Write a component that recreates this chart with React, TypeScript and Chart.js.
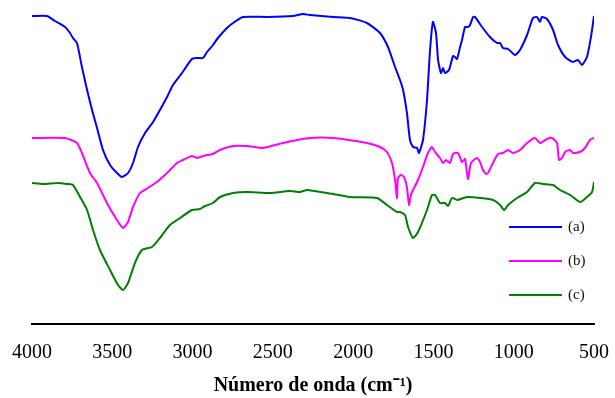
import { useEffect, useRef } from "react";
import { Chart, registerables } from "chart.js";

Chart.register(...registerables);

// Wavenumbers (cm-1) and transmittance (arbitrary units, offset spectra)
const waveA = [4000, 3907, 3857, 3794, 3763, 3745, 3720, 3689, 3657, 3626, 3595, 3558, 3514, 3471, 3440, 3402, 3371, 3340, 3296, 3246, 3203, 3159, 3122, 3066, 3004, 2972, 2935, 2910, 2873, 2842, 2786, 2748, 2686, 2536, 2375, 2312, 2269, 2125, 2020, 1914, 1833, 1783, 1739, 1708, 1689, 1665, 1646, 1627, 1602, 1590, 1565, 1540, 1521, 1503, 1484, 1471, 1453, 1440, 1428, 1403, 1378, 1366, 1353, 1334, 1322, 1303, 1285, 1272, 1253, 1241, 1197, 1148, 1104, 1085, 1067, 1035, 992, 961, 917, 880, 855, 836, 824, 793, 755, 724, 680, 631, 600, 575, 544, 519, 500];
const transA = [308, 308, 303, 297, 291, 286, 281, 257, 234, 214, 196, 174, 159, 151, 147, 151, 161, 177, 191, 202, 214, 227, 239, 251, 265, 266, 266, 272, 279, 286, 296, 301, 307, 307, 308, 310, 309, 307, 306, 301, 291, 277, 257, 244, 234, 211, 184, 177, 176, 171, 184, 224, 274, 302, 291, 264, 251, 256, 251, 254, 268, 267, 265, 277, 284, 297, 297, 299, 307, 307, 297, 287, 281, 281, 276, 275, 269, 274, 289, 306, 307, 302, 307, 305, 294, 279, 267, 262, 264, 259, 267, 287, 308];

const waveB = [4000, 3794, 3720, 3689, 3639, 3595, 3533, 3471, 3433, 3402, 3371, 3327, 3278, 3222, 3159, 3097, 3060, 3004, 2972, 2954, 2910, 2873, 2829, 2748, 2661, 2561, 2437, 2269, 2125, 1914, 1833, 1789, 1758, 1739, 1727, 1721, 1702, 1683, 1665, 1652, 1640, 1627, 1596, 1565, 1534, 1509, 1490, 1459, 1440, 1422, 1397, 1378, 1347, 1322, 1303, 1285, 1266, 1229, 1210, 1191, 1173, 1160, 1129, 1098, 1067, 1035, 1004, 961, 917, 867, 836, 793, 762, 730, 718, 699, 680, 649, 631, 587, 556, 525, 500];
const transB = [186, 186, 181, 171, 151, 141, 121, 104, 96, 102, 117, 131, 136, 142, 151, 161, 164, 168, 166, 167, 169, 170, 174, 178, 178, 176, 181, 186, 186, 181, 177, 172, 161, 144, 126, 146, 149, 147, 137, 119, 129, 134, 144, 157, 171, 177, 172, 166, 161, 164, 161, 170, 171, 162, 165, 145, 161, 166, 162, 154, 150, 151, 161, 170, 171, 174, 171, 174, 181, 186, 181, 185, 186, 181, 164, 166, 172, 174, 171, 172, 176, 184, 186];

const waveC = [4000, 3931, 3838, 3782, 3745, 3701, 3657, 3620, 3577, 3514, 3464, 3433, 3402, 3359, 3315, 3253, 3203, 3141, 3078, 3004, 2954, 2923, 2873, 2829, 2748, 2661, 2518, 2393, 2331, 2287, 2163, 2020, 1851, 1789, 1727, 1708, 1677, 1658, 1627, 1596, 1540, 1509, 1490, 1459, 1428, 1409, 1384, 1353, 1291, 1210, 1129, 1085, 1060, 1035, 979, 917, 867, 818, 755, 712, 649, 587, 544, 512, 500];
const transC = [141, 140, 141, 140, 139, 127, 114, 94, 74, 54, 39, 34, 41, 61, 74, 77, 86, 99, 106, 114, 115, 118, 121, 127, 131, 132, 131, 133, 132, 134, 131, 127, 126, 119, 112, 112, 109, 97, 86, 92, 114, 129, 129, 121, 121, 118, 126, 124, 127, 126, 124, 119, 114, 119, 126, 132, 141, 140, 139, 134, 129, 122, 127, 132, 142];

const seriesLabels = ["(a)", "(b)", "(c)"];
const seriesColors = ["#0000FF", "#FF00FF", "#008000"];
const xTickValues = [4000, 3500, 3000, 2500, 2000, 1500, 1000, 500];
const xTitle = "Número de onda (cm⁻¹)";

const toPoints = (xs: number[], ys: number[]) => xs.map((x, i) => ({ x, y: ys[i] }));

const legendPlugin = {
  id: "insideLegend",
  afterDraw(chart: any) {
    const { ctx, chartArea } = chart;
    const offsets = [97, 63, 29];
    ctx.save();
    chart.data.datasets.forEach((ds: any, i: number) => {
      const y = chartArea.bottom - offsets[i];
      ctx.strokeStyle = ds.borderColor;
      ctx.lineWidth = 2;
      ctx.beginPath();
      ctx.moveTo(chartArea.right - 85, y);
      ctx.lineTo(chartArea.right - 32, y);
      ctx.stroke();
      ctx.fillStyle = "#111";
      ctx.font = "15px 'Liberation Serif'";
      ctx.textBaseline = "middle";
      ctx.textAlign = "left";
      ctx.fillText(ds.label, chartArea.right - 26, y);
    });
    ctx.restore();
  },
};

export default function App() {
  const canvasRef = useRef<HTMLCanvasElement | null>(null);

  useEffect(() => {
    const canvas = canvasRef.current;
    if (!canvas) return;
    const chart = new Chart(canvas, {
      type: "line",
      data: {
        datasets: [
          { label: seriesLabels[0], data: toPoints(waveA, transA), borderColor: seriesColors[0], backgroundColor: seriesColors[0], borderWidth: 2, pointRadius: 0, tension: 0.2, fill: false },
          { label: seriesLabels[1], data: toPoints(waveB, transB), borderColor: seriesColors[1], backgroundColor: seriesColors[1], borderWidth: 2, pointRadius: 0, tension: 0.2, fill: false },
          { label: seriesLabels[2], data: toPoints(waveC, transC), borderColor: seriesColors[2], backgroundColor: seriesColors[2], borderWidth: 2, pointRadius: 0, tension: 0.2, fill: false },
        ],
      },
      options: {
        animation: false,
        responsive: true,
        maintainAspectRatio: false,
        layout: { padding: { left: 32, right: 21, top: 10, bottom: 0 } },
        plugins: {
          legend: { display: false },
          tooltip: { enabled: false },
          title: { display: false },
        },
        scales: {
          x: {
            type: "linear",
            min: 500,
            max: 4000,
            reverse: true,
            afterBuildTicks: (axis: any) => {
              axis.ticks = xTickValues.map((v) => ({ value: v }));
            },
            grid: { display: false, drawTicks: true, tickLength: 17 },
            border: { display: true, color: "#000", width: 2 },
            ticks: {
              color: "#000",
              padding: 0,
              maxRotation: 0,
              autoSkip: false,
              font: { family: "'Liberation Serif'", size: 20 },
              callback: (v: any) => String(v),
            },
            title: {
              display: true,
              text: xTitle,
              color: "#000",
              font: { family: "'Liberation Serif'", size: 20, weight: "bold" },
              padding: { top: 9, bottom: 0 },
            },
          },
          y: {
            type: "linear",
            display: false,
            min: 0,
            max: 314,
          },
        },
      },
      plugins: [legendPlugin],
    });
    return () => chart.destroy();
  }, []);

  return (
    <div style={{ position: "fixed", left: 0, top: 0, width: 615, height: 398, background: "#fff" }}>
      <canvas ref={canvasRef} />
    </div>
  );
}
